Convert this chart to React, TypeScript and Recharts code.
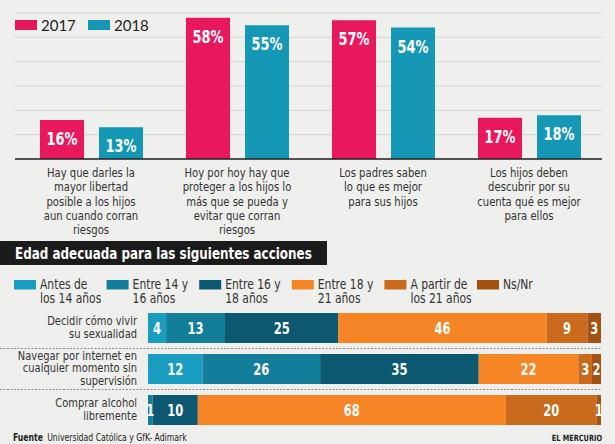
import React from "react";
import { BarChart, Bar, XAxis, YAxis, CartesianGrid, LabelList } from "recharts";

// top chart: opinion by year
const CATEGORIES = [
  "Hay que darles la\nmayor libertad\nposible a los hijos\naun cuando corran\nriesgos",
  "Hoy por hoy hay que\nproteger a los hijos lo\nmás que se pueda y\nevitar que corran\nriesgos",
  "Los padres saben\nlo que es mejor\npara sus hijos",
  "Los hijos deben\ndescubrir por su\ncuenta qué es mejor\npara ellos",
];
const Y2017 = [16, 58, 57, 17];
const Y2018 = [13, 55, 54, 18];
const Y_TICKS = [0, 10, 20, 30, 40, 50, 60];

// bottom chart: adequate age per action
const ACTIONS = [
  "Decidir cómo vivir\nsu sexualidad",
  "Navegar por internet en\ncualquier momento sin\nsupervisión",
  "Comprar alcohol\nlibremente",
];
const AGE_GROUPS = [
  { key: "antes14", label: "Antes de\nlos 14 años", color: "#1a9dc0" },
  { key: "e14", label: "Entre 14 y\n16 años", color: "#137e9a" },
  { key: "e16", label: "Entre 16 y\n18 años", color: "#0b5870" },
  { key: "e18", label: "Entre 18 y\n21 años", color: "#f58525" },
  { key: "a21", label: "A partir de\nlos 21 años", color: "#ca6a1c" },
  { key: "nsnr", label: "Ns/Nr", color: "#a3520f" },
];
const ANTES14 = [4, 12, 0];
const E14 = [13, 26, 1];
const E16 = [25, 35, 10];
const E18 = [46, 22, 68];
const A21 = [9, 3, 20];
const NSNR = [3, 2, 1];

const PINK = "#e8185d";
const TEAL = "#1597b6";
const COND = '"DejaVu Sans Condensed", "DejaVu Sans", sans-serif';

const topData = CATEGORIES.map((c, i) => ({ cat: c, y2017: Y2017[i], y2018: Y2018[i] }));
const ageSeries = [ANTES14, E14, E16, E18, A21, NSNR];
const bottomData = ACTIONS.map((a, i) => {
  const row: any = { action: a };
  AGE_GROUPS.forEach((g, j) => (row[g.key] = ageSeries[j][i]));
  return row;
});

// no condensed face installed, so squeeze the text horizontally around its anchor x
const squeeze = (x: number, sx: number) => `translate(${x} 0) scale(${sx} 1) translate(${-x} 0)`;

const TopTick = ({ x, y, payload }: any) => {
  const lines = String(payload.value).split("\n");
  return (
    <text x={x} y={y} textAnchor="middle" fill="#333" fontSize={13} fontFamily={COND} transform={squeeze(x, 0.86)}>
      {lines.map((l, i) => (
        <tspan key={i} x={x} dy={i === 0 ? 18 : 14.3}>{l}</tspan>
      ))}
    </text>
  );
};

const ActionTick = ({ x, y, payload }: any) => {
  const lines = String(payload.value).split("\n");
  const step = 12.5;
  const start = y - ((lines.length - 1) * step) / 2 + 4;
  const ax = x - 11;
  return (
    <text textAnchor="end" fill="#333" fontSize={11.6} fontFamily={COND} transform={squeeze(ax, 0.95)}>
      {lines.map((l, i) => (
        <tspan key={i} x={ax} y={start + i * step}>{l}</tspan>
      ))}
    </text>
  );
};

const PctLabel = (props: any) => {
  const { x, y, width, value } = props;
  const cx = x + width / 2;
  return (
    <text x={cx} y={y + 25} textAnchor="middle" fill="#fff" fontSize={18} fontWeight="bold" fontFamily={COND} transform={squeeze(cx, 0.8)}>
      {value}%
    </text>
  );
};

const SegLabel = (props: any) => {
  const { x, y, width, height, value } = props;
  if (!value) return null;
  const cx = x + width / 2;
  return (
    <text x={cx} y={y + height / 2 + 6} textAnchor="middle" fill="#fff" fontSize={16} fontWeight="bold" fontFamily={COND} transform={squeeze(cx, 0.8)}>
      {value}
    </text>
  );
};

export default function App() {
  return (
    <div style={{ position: "absolute", left: 0, top: 0, width: 615, height: 444, background: "#efefed", overflow: "hidden" }}>
      <div style={{ position: "absolute", left: 0, top: 0 }}>
        <BarChart width={615} height={240} data={topData} margin={{ top: 13, right: 13, left: 15, bottom: 0 }} barGap={15} barSize={44}>
          <CartesianGrid vertical={false} stroke="#d2d2d0" />
          <YAxis hide domain={[0, 60]} ticks={Y_TICKS} />
          <XAxis
            dataKey="cat"
            height={81}
            interval={0}
            tickLine={false}
            tickSize={0}
            tickMargin={0}
            axisLine={{ stroke: "#222", strokeWidth: 1.5 }}
            padding={{ left: 3, right: 0 }}
            tick={<TopTick />}
          />
          <Bar dataKey="y2017" fill={PINK} isAnimationActive={false}>
            <LabelList dataKey="y2017" content={<PctLabel />} />
          </Bar>
          <Bar dataKey="y2018" fill={TEAL} isAnimationActive={false}>
            <LabelList dataKey="y2018" content={<PctLabel />} />
          </Bar>
        </BarChart>
      </div>

      <svg width={615} height={444} style={{ position: "absolute", left: 0, top: 0 }}>
        {/* top legend */}
        <rect x={15} y={20} width={22} height={10} fill={PINK} />
        <text x={41} y={31} fontSize={15} fontFamily="Lato, sans-serif" fill="#222">2017</text>
        <rect x={88} y={20} width={22} height={10} fill={TEAL} />
        <text x={114} y={31} fontSize={15} fontFamily="Lato, sans-serif" fill="#222">2018</text>

        {/* section title */}
        <rect x={0} y={241} width={327} height={24} fill="#1b1b1b" />
        <text x={15} y={259} fontSize={16} fontWeight="bold" fontFamily={COND} fill="#fff" transform={squeeze(15, 0.83)}>
          Edad adecuada para las siguientes acciones
        </text>

        {/* bottom legend */}
        {AGE_GROUPS.map((g, i) => {
          const lx = 14 + i * 92.6;
          return (
            <g key={g.key}>
              <rect x={lx} y={280} width={22} height={9.5} fill={g.color} />
              <text fontSize={13.6} fontFamily={COND} fill="#333" transform={squeeze(lx + 26, 0.88)}>
                {g.label.split("\n").map((l, k) => (
                  <tspan key={k} x={lx + 26} y={289 + k * 14.4}>{l}</tspan>
                ))}
              </text>
            </g>
          );
        })}

        {/* row separators */}
        <line x1={0} x2={601} y1={348.5} y2={348.5} stroke="#8a8a8a" strokeDasharray="2 1.5" />
        <line x1={0} x2={601} y1={389.5} y2={389.5} stroke="#8a8a8a" strokeDasharray="2 1.5" />

        {/* footer */}
        <text x={13} y={441} fontSize={10.5} fontFamily={COND} fill="#222" transform={squeeze(13, 0.82)}>
          <tspan fontWeight="bold">Fuente</tspan>
          <tspan dx={5}>Universidad Católica y GfK- Adimark</tspan>
        </text>
        <text x={602} y={441} textAnchor="end" fontSize={8.5} fontWeight="bold" fontFamily={COND} fill="#222" transform={squeeze(602, 0.86)}>
          EL MERCURIO
        </text>
      </svg>

      <div style={{ position: "absolute", left: 0, top: 307 }}>
        <BarChart width={615} height={123} data={bottomData} layout="vertical" margin={{ top: 0, right: 14, left: 0, bottom: 0 }} barSize={30}>
          <XAxis type="number" hide domain={[0, 100]} />
          <YAxis type="category" dataKey="action" width={148} tickLine={false} axisLine={false} tickSize={0} tickMargin={0} interval={0} tick={<ActionTick />} />
          {AGE_GROUPS.map((g) => (
            <Bar key={g.key} dataKey={g.key} stackId="a" fill={g.color} isAnimationActive={false}>
              <LabelList dataKey={g.key} content={<SegLabel />} />
            </Bar>
          ))}
        </BarChart>
      </div>
    </div>
  );
}
